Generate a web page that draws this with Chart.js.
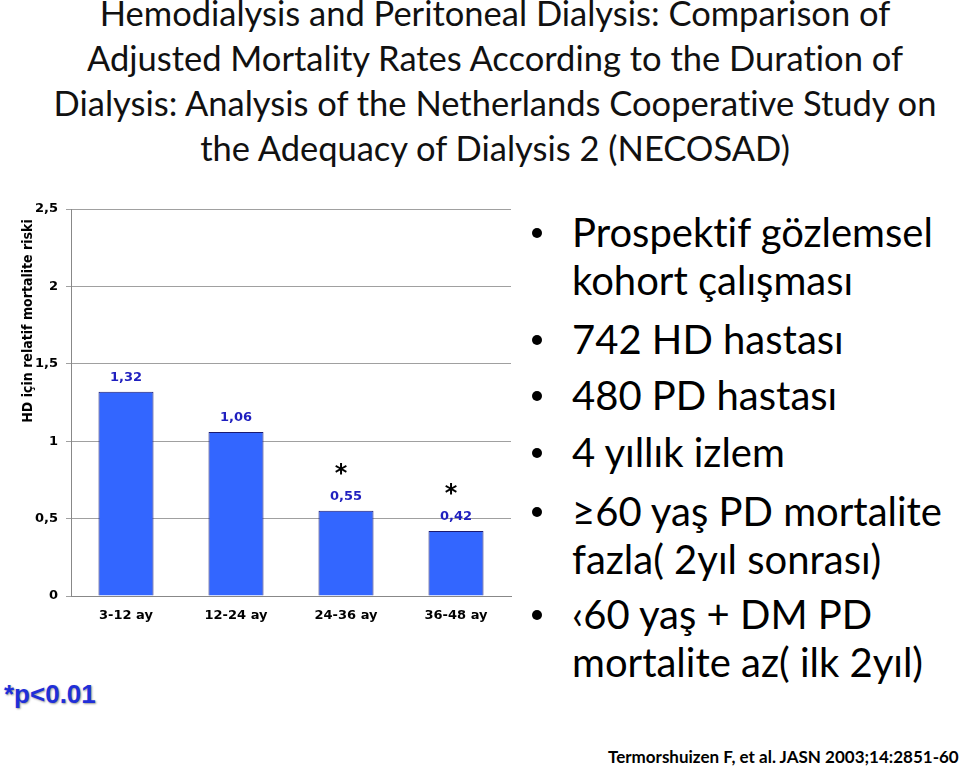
<!DOCTYPE html>
<html>
<head>
<meta charset="utf-8">
<script src="https://cdn.jsdelivr.net/npm/chart.js@4.4.0/dist/chart.umd.min.js"></script>
<style>
    body { margin: 0; background: #fff; }
    #page { position: relative; width: 960px; height: 768px; overflow: hidden; font-family: Lato, "Noto Sans", sans-serif; font-variant-ligatures: none; }
    #title { position: absolute; left: 30px; top: -10px; width: 930px; text-align: center; font-size: 34.5px; line-height: 45px; color: #111; }
    #chartBox { position: absolute; left: 0; top: 190px; width: 520px; height: 450px; }
    .bullet { position: absolute; left: 572px; font-size: 40px; line-height: 48px; color: #000; }
    .bullet::before { content: ''; position: absolute; left: -40px; top: 20px; width: 10px; height: 10px; border-radius: 50%; background: #000; }
    #pnote { position: absolute; left: 4px; top: 679px; font-family: "Liberation Sans", Arial, sans-serif; font-weight: bold; font-size: 26px; color: #1f2fd8; text-shadow: 1px 1px 2px #999; }
    #cite { position: absolute; left: 608px; top: 746px; font-weight: bold; font-size: 17px; color: #000; }
</style>
</head>
<body>
<div id="page">
    <div id="title">Hemodialysis and Peritoneal Dialysis: Comparison of<br>Adjusted Mortality Rates According to the Duration of<br>Dialysis: Analysis of the Netherlands Cooperative Study on<br>the Adequacy of Dialysis 2 (NECOSAD)</div>
    <div id="chartBox"><canvas id="chart" width="520" height="450"></canvas></div>
    <div class="bullet" style="top:208px">Prospektif gözlemsel<br>kohort çalışması</div>
    <div class="bullet" style="top:315px">742 HD hastası</div>
    <div class="bullet" style="top:371px">480 PD hastası</div>
    <div class="bullet" style="top:428px">4 yıllık izlem</div>
    <div class="bullet" style="top:487px">≥60 yaş PD mortalite<br>fazla( 2yıl sonrası)</div>
    <div class="bullet" style="top:590px">‹60 yaş + DM PD<br>mortalite az( ilk 2yıl)</div>
    <div id="pnote">*p&lt;0.01</div>
    <div id="cite">Termorshuizen F, et al. JASN 2003;14:2851-60</div>
</div>
<script>
const periods = ['3-12 ay', '12-24 ay', '24-36 ay', '36-48 ay'];
const relativeRisk = [1.32, 1.06, 0.55, 0.42];
const significant = [false, false, true, true];
const yTicks = [0, 0.5, 1, 1.5, 2, 2.5];
const yTitle = 'HD için relatif mortalite riski';

const fmt = v => v.toString().replace('.', ',');

// value labels + significance stars above the bars
const barLabels = {
    id: 'barLabels',
    afterDatasetsDraw(chart) {
        const ctx = chart.ctx;
        const meta = chart.getDatasetMeta(0);
        ctx.save();
        ctx.textAlign = 'center';
        meta.data.forEach((bar, i) => {
            ctx.fillStyle = '#1f1fbf';
            ctx.font = 'bold 13px "DejaVu Sans"';
            ctx.textBaseline = 'bottom';
            ctx.fillText(fmt(relativeRisk[i].toFixed(2)), bar.x, bar.y - 8);
            if (significant[i]) {
                ctx.fillStyle = '#000';
                ctx.font = 'bold 24px "DejaVu Sans"';
                ctx.fillText('*', bar.x - 5, bar.y - 24);
            }
        });
        ctx.restore();
    }
};

// y title sits in the upper part of the axis, not centred
const axisTitle = {
    id: 'axisTitle',
    afterDraw(chart) {
        const ctx = chart.ctx;
        const area = chart.chartArea;
        ctx.save();
        ctx.translate(28, area.top + 112);
        ctx.rotate(-Math.PI / 2);
        ctx.textAlign = 'center';
        ctx.textBaseline = 'middle';
        ctx.fillStyle = '#000';
        ctx.font = 'bold 14px "DejaVu Sans Condensed"';
        ctx.fillText(yTitle, 0, 0);
        ctx.restore();
    }
};

new Chart(document.getElementById('chart'), {
    type: 'bar',
    data: {
        labels: periods,
        datasets: [{
            data: relativeRisk,
            backgroundColor: '#3366ff',
            borderColor: '#1a1a70',
            borderWidth: 1,
            categoryPercentage: 1,
            barPercentage: 0.5
        }]
    },
    options: {
        responsive: false,
        animation: false,
        layout: { padding: { top: 19, right: 9, left: 0, bottom: 0 } },
        plugins: { legend: { display: false }, tooltip: { enabled: false } },
        scales: {
            x: {
                grid: { display: false, drawTicks: false },
                border: { color: '#888', width: 1 },
                ticks: { color: '#000', font: { family: 'DejaVu Sans', weight: 'bold', size: 13 }, padding: 12 },
                afterFit: s => { s.height = 44; }
            },
            y: {
                min: 0,
                max: 2.5,
                afterBuildTicks: s => { s.ticks = yTicks.map(v => ({ value: v })); },
                grid: { color: '#a0a0a0', tickLength: 5 },
                border: { color: '#888', width: 1 },
                ticks: {
                    color: '#000',
                    font: { family: 'DejaVu Sans', weight: 'bold', size: 13 },
                    padding: 8,
                    callback: v => fmt(v)
                },
                afterFit: s => { s.width = 71; }
            }
        }
    },
    plugins: [barLabels, axisTitle]
});
</script>
</body>
</html>
